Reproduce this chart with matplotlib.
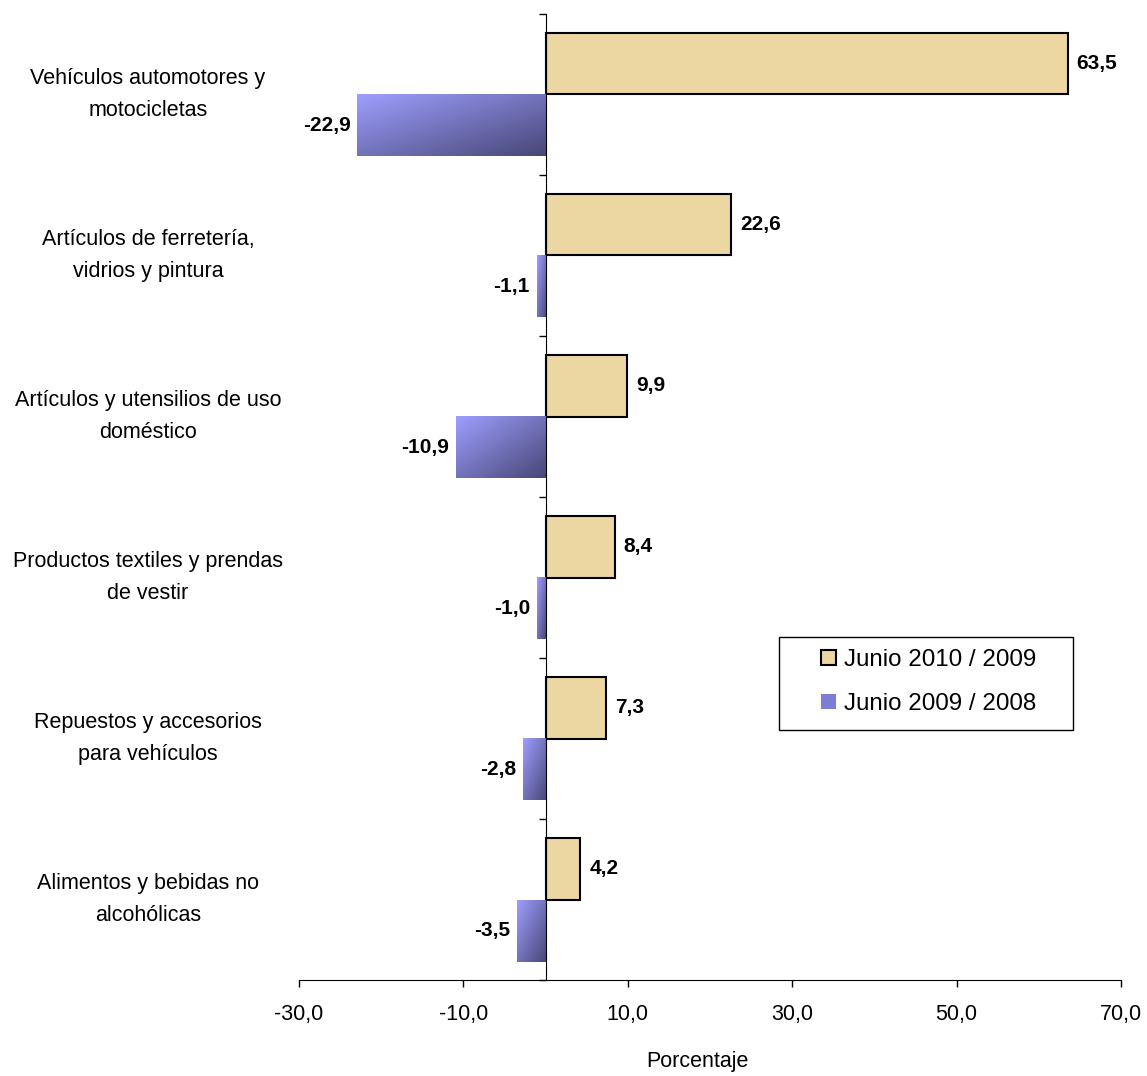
import numpy as np
import matplotlib.pyplot as plt
from matplotlib.patches import Patch, Rectangle
import matplotlib.transforms as mtransforms

categorias = ['Vehículos automotores y\nmotocicletas',
              'Artículos de ferretería,\nvidrios y pintura',
              'Artículos y utensilios de uso\ndoméstico',
              'Productos textiles y prendas\nde vestir',
              'Repuestos y accesorios\npara vehículos',
              'Alimentos y bebidas no\nalcohólicas']
junio_2010_2009 = [63.5, 22.6, 9.9, 8.4, 7.3, 4.2]
junio_2009_2008 = [-22.9, -1.1, -10.9, -1.0, -2.8, -3.5]
serie_nombres = ['Junio 2010 / 2009', 'Junio 2009 / 2008']


def fmt(v):
    return f"{v:.1f}".replace('.', ',')


def main():
    plt.rcParams['font.family'] = ['Liberation Sans', 'DejaVu Sans']
    fig = plt.figure(figsize=(11.47, 10.76), dpi=100)
    ax = fig.add_axes([0.2607, 0.0892, 0.7166, 0.8978])

    n = len(categorias)
    y = np.arange(n)[::-1]
    h = 0.385
    tan = '#ECD7A2'

    ax.barh(y + h / 2, junio_2010_2009, height=h, color=tan,
            edgecolor='black', linewidth=1.5, zorder=3)
    bars = ax.barh(y - h / 2, junio_2009_2008, height=h, color='none',
                   edgecolor='none', zorder=3)

    # diagonal gradient for the blue bars
    gx, gy = np.meshgrid(np.linspace(0, 1, 64), np.linspace(0, 1, 64))
    t = (gx + gy) / 2
    c0 = np.array([0.62, 0.62, 1.0])
    c1 = np.array([0.28, 0.28, 0.47])
    img = c0 + (c1 - c0) * t[..., None]
    for b in bars:
        x0, y0 = b.get_x(), b.get_y()
        w, hh = b.get_width(), b.get_height()
        xl, xr = min(x0, x0 + w), max(x0, x0 + w)
        ax.imshow(img, extent=[xl, xr, y0, y0 + hh], origin='upper',
                  aspect='auto', zorder=3, interpolation='bilinear')

    for yi, v in zip(y, junio_2010_2009):
        ax.text(v + 1.1, yi + h / 2, fmt(v), va='center', ha='left',
                fontsize=15, fontweight='bold')
    for yi, v in zip(y, junio_2009_2008):
        ax.text(v - 0.8, yi - h / 2, fmt(v), va='center', ha='right',
                fontsize=15, fontweight='bold')

    ax.set_xlim(-30, 70)
    ax.set_ylim(-0.5, n - 0.5)
    ax.set_xticks([-30, -10, 10, 30, 50, 70])
    ax.set_xticklabels([fmt(v) for v in [-30, -10, 10, 30, 50, 70]], fontsize=15.5)
    ax.tick_params(axis='x', direction='out', length=5, width=1, pad=12)
    ax.set_yticks(np.arange(-0.5, n, 1.0))
    ax.set_yticklabels([])
    ax.tick_params(axis='y', direction='out', length=5, width=1)

    ax.spines['top'].set_visible(False)
    ax.spines['right'].set_visible(False)
    ax.spines['left'].set_position(('data', 0))
    ax.spines['left'].set_zorder(4)

    trans = mtransforms.blended_transform_factory(fig.transFigure, ax.transData)
    for yi, lab in zip(y, categorias):
        ax.text(0.129, yi, lab, transform=trans, ha='center', va='center',
                fontsize=15.5, linespacing=1.68)

    fig.text(697 / 1147, 1 - 1062 / 1076, 'Porcentaje', ha='center',
             va='center', fontsize=15.5)

    # legend box
    fig.add_artist(Rectangle((779 / 1147, 1 - 730 / 1076), 294 / 1147, 93 / 1076,
                             transform=fig.transFigure, facecolor='white',
                             edgecolor='black', linewidth=1, zorder=5))
    handles = [Patch(facecolor=tan, edgecolor='black', linewidth=1.5),
               Patch(facecolor='#7D7DD6', edgecolor='none')]
    leg = fig.legend(handles, serie_nombres, loc='center',
                     bbox_to_anchor=(929 / 1147, 1 - 682 / 1076),
                     bbox_transform=fig.transFigure, fontsize=17.4,
                     frameon=False, handlelength=0.62, handleheight=0.62,
                     handletextpad=0.33, labelspacing=0.9, borderpad=0,
                     borderaxespad=0)
    leg.set_zorder(6)

    fig.savefig('out.png', dpi=100)


if __name__ == "__main__":
    main()
